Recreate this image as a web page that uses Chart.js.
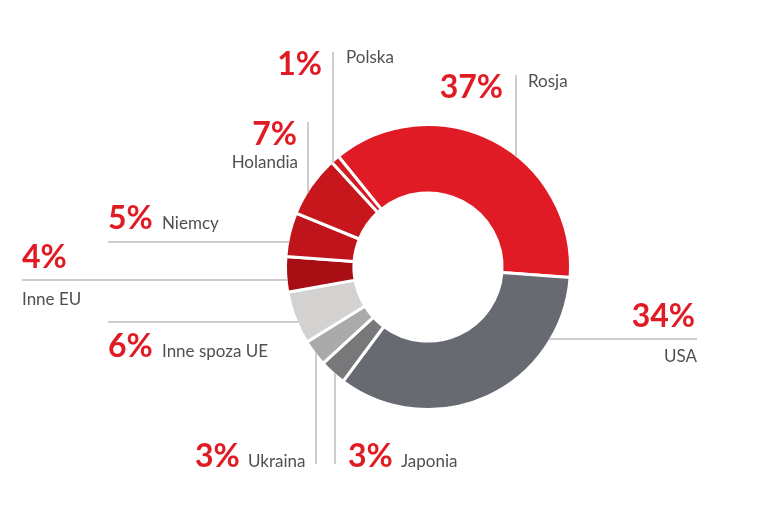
<!DOCTYPE html>
<html>
<head>
<meta charset="utf-8">
<script src="https://cdn.jsdelivr.net/npm/chart.js@4.4.1/dist/chart.umd.min.js"></script>
<style>
html,body{margin:0;padding:0;background:#fff;}
#wrap{width:758px;height:515px;position:relative;}
</style>
</head>
<body>
<div id="wrap"><canvas id="c" width="758" height="515"></canvas></div>
<script>
// Data (clockwise, starting at Rosja)
const categories = ['Rosja', 'USA', 'Japonia', 'Ukraina', 'Inne spoza UE', 'Inne EU', 'Niemcy', 'Holandia', 'Polska'];
const shares = [37, 34, 3, 3, 6, 4, 5, 7, 1];
const percentLabels = ['37%', '34%', '3%', '3%', '6%', '4%', '5%', '7%', '1%'];
const sliceColors = ['#e11b25', '#676a70', '#78787a', '#aaaaaa', '#d3d2d0', '#a80f15', '#bf141b', '#c8161d', '#d41a22'];

// Label layout (positions only): leader line + percent + name
const labelLayout = {
  'Rosja':         {line:{type:'v', at:516, end:75},  pct:{x:503, y:98,  align:'right'}, name:{x:528, y:87,  align:'left'}},
  'USA':           {line:{type:'h', at:339, end:697}, pct:{x:695, y:327, align:'right'}, name:{x:697, y:362, align:'right'}},
  'Japonia':       {line:{type:'v', at:335, end:464}, pct:{x:348, y:467, align:'left'},  name:{x:401, y:467, align:'left'}},
  'Ukraina':       {line:{type:'v', at:316, end:464}, pct:{x:195, y:467, align:'left'},  name:{x:248, y:467, align:'left'}},
  'Inne spoza UE': {line:{type:'h', at:322, end:108}, pct:{x:108, y:357, align:'left'},  name:{x:162, y:357, align:'left'}},
  'Inne EU':       {line:{type:'h', at:280, end:22},  pct:{x:22,  y:268, align:'left'},  name:{x:22,  y:305, align:'left'}},
  'Niemcy':        {line:{type:'h', at:242, end:108}, pct:{x:108, y:229, align:'left'},  name:{x:162, y:229, align:'left'}},
  'Holandia':      {line:{type:'v', at:308, end:122}, pct:{x:297, y:145, align:'right'}, name:{x:298, y:168, align:'right'}},
  'Polska':        {line:{type:'v', at:333, end:52},  pct:{x:322, y:75,  align:'right'}, name:{x:346, y:63,  align:'left'}}
};

const calloutPlugin = {
  id: 'callouts',
  afterDraw(chart) {
    const ctx = chart.ctx;
    const arc = chart.getDatasetMeta(0).data[0];
    if (!arc) return;
    const cx = arc.x, cy = arc.y, R = arc.outerRadius - 1.5;
    ctx.save();
    categories.forEach((name, i) => {
      const L = labelLayout[name];
      // leader line ending on the ring edge
      ctx.strokeStyle = '#bcbcbc';
      ctx.lineWidth = 1.5;
      ctx.beginPath();
      if (L.line.type === 'v') {
        const dx = L.line.at - cx;
        const h = Math.sqrt(Math.max(R * R - dx * dx, 0));
        const edgeY = L.line.end < cy ? cy - h : cy + h;
        ctx.moveTo(L.line.at, L.line.end);
        ctx.lineTo(L.line.at, edgeY);
      } else {
        const dy = L.line.at - cy;
        const w = Math.sqrt(Math.max(R * R - dy * dy, 0));
        const edgeX = L.line.end < cx ? cx - w : cx + w;
        ctx.moveTo(L.line.end, L.line.at);
        ctx.lineTo(edgeX, L.line.at);
      }
      ctx.stroke();
      // percent
      ctx.fillStyle = '#e01b24';
      ctx.font = 'bold 32px Lato, "Open Sans", sans-serif';
      ctx.textAlign = L.pct.align;
      ctx.textBaseline = 'alphabetic';
      ctx.fillText(percentLabels[i], L.pct.x, L.pct.y);
      // name
      ctx.fillStyle = '#505050';
      ctx.font = '17px Lato, "Open Sans", sans-serif';
      ctx.textAlign = L.name.align;
      ctx.fillText(name, L.name.x, L.name.y);
    });
    ctx.restore();
  }
};

new Chart(document.getElementById('c'), {
  type: 'doughnut',
  data: {
    labels: categories,
    datasets: [{
      data: shares,
      backgroundColor: sliceColors,
      borderColor: '#ffffff',
      borderWidth: 3,
      hoverOffset: 0
    }]
  },
  options: {
    responsive: false,
    animation: false,
    rotation: -39,
    cutout: '52%',
    layout: {padding: {left: 284, right: 186, top: 123, bottom: 104}},
    plugins: {
      legend: {display: false},
      tooltip: {enabled: false}
    },
    events: []
  },
  plugins: [calloutPlugin]
});
</script>
</body>
</html>
